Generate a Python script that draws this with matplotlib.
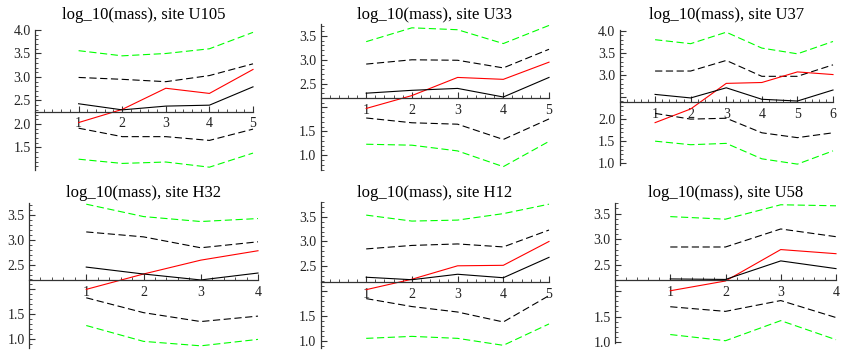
import matplotlib.pyplot as plt
import numpy as np
from matplotlib.ticker import MultipleLocator

plt.rcParams['font.family'] = ['Liberation Serif', 'DejaVu Serif']

# Data (one list per site)
sites = ["U105", "U33", "U37", "H32", "H12", "U58"]

green_hi = [[3.56, 3.45, 3.50, 3.60, 3.95],
            [3.38, 3.67, 3.63, 3.34, 3.72],
            [3.80, 3.71, 3.97, 3.61, 3.48, 3.76],
            [3.72, 3.47, 3.37, 3.43],
            [3.53, 3.41, 3.43, 3.56, 3.75],
            [3.44, 3.39, 3.67, 3.65]]
dash_hi = [[2.99, 2.95, 2.90, 3.03, 3.28],
           [2.91, 3.00, 2.99, 2.83, 3.22],
           [3.09, 3.09, 3.33, 2.97, 2.97, 3.23],
           [3.16, 3.06, 2.84, 2.96],
           [2.85, 2.92, 2.95, 2.89, 3.23],
           [2.85, 2.85, 3.20, 3.05]]
red_line = [[2.03, 2.31, 2.76, 2.65, 3.16],
            [1.98, 2.25, 2.63, 2.59, 2.95],
            [1.92, 2.23, 2.81, 2.83, 3.07, 3.01],
            [2.00, 2.31, 2.59, 2.78],
            [2.03, 2.24, 2.51, 2.52, 3.00],
            [2.00, 2.19, 2.80, 2.72]]
black_line = [[2.43, 2.30, 2.38, 2.40, 2.79],
              [2.30, 2.36, 2.40, 2.22, 2.63],
              [2.56, 2.48, 2.71, 2.45, 2.41, 2.66],
              [2.45, 2.31, 2.19, 2.33],
              [2.28, 2.23, 2.34, 2.27, 2.68],
              [2.23, 2.22, 2.58, 2.43]]
dash_lo = [[1.91, 1.73, 1.73, 1.65, 1.89],
           [1.78, 1.68, 1.65, 1.33, 1.76],
           [2.13, 2.00, 2.02, 1.69, 1.58, 1.69],
           [1.83, 1.53, 1.35, 1.46],
           [1.85, 1.69, 1.58, 1.38, 1.91],
           [1.69, 1.60, 1.81, 1.48]]
green_lo = [[1.25, 1.16, 1.19, 1.08, 1.38],
            [1.23, 1.21, 1.09, 0.76, 1.29],
            [1.50, 1.42, 1.45, 1.10, 0.98, 1.28],
            [1.27, 0.95, 0.86, 0.99],
            [1.05, 1.09, 1.05, 0.91, 1.34],
            [1.15, 1.03, 1.42, 1.05]]

# where the x axis crosses the y axis, and which y labels are shown
axis_cross = [2.26, 2.19, 2.38, 2.18, 2.18, 2.20]
ytick_labels = [[1.5, 2.0, 2.5, 3.0, 3.5, 4.0],
                [1.0, 1.5, 2.5, 3.0, 3.5],
                [1.0, 1.5, 2.0, 3.0, 3.5, 4.0],
                [1.0, 1.5, 2.5, 3.0, 3.5],
                [1.0, 1.5, 2.5, 3.0, 3.5],
                [1.0, 1.5, 2.5, 3.0, 3.5]]
ylims = [(1.02, 4.0), (0.69, 3.75), (0.96, 4.02),
         (0.81, 3.75), (0.85, 3.80), (0.98, 3.71)]

# panel frames in pixels: left, right, top, bottom
W, H = 843, 361
rects = [(35, 253, 30, 170), (320.5, 549, 24, 170), (619.5, 833, 30, 165),
         (29, 258, 202.7, 348.3), (320.5, 549, 201.7, 348.3), (615, 836, 202.7, 343.3)]
title_y = [15, 15, 15, 193, 193, 193]

fig = plt.figure(figsize=(8.43, 3.61), dpi=100)

for i, site in enumerate(sites):
    l, r, t, b = rects[i]
    ax = fig.add_axes([l / W, 1 - b / H, (r - l) / W, (b - t) / H])
    ax.patch.set_visible(False)
    n = len(red_line[i])
    x = np.arange(1, n + 1)
    ax.set_xlim(0, n)
    ax.set_ylim(ylims[i])

    dsh = (6.5, 3.2)
    ax.plot(x, green_hi[i], color=(0, 1, 0), lw=0.8, dashes=dsh, clip_on=False)
    ax.plot(x, dash_hi[i], color='black', lw=0.8, dashes=dsh, clip_on=False)
    ax.plot(x, red_line[i], color='red', lw=0.8, clip_on=False)
    ax.plot(x, black_line[i], color='black', lw=0.8, clip_on=False)
    ax.plot(x, dash_lo[i], color='black', lw=0.8, dashes=dsh, clip_on=False)
    ax.plot(x, green_lo[i], color=(0, 1, 0), lw=0.8, dashes=dsh, clip_on=False)

    for s in ['top', 'right']:
        ax.spines[s].set_visible(False)
    ax.spines['left'].set_position(('data', 0))
    ax.spines['bottom'].set_position(('data', axis_cross[i]))
    for s in ['left', 'bottom']:
        ax.spines[s].set_linewidth(0.9)
        ax.spines[s].set_color('#333333')

    ax.set_xticks(x)
    ax.set_xticklabels([str(v) for v in x])
    ax.xaxis.set_minor_locator(MultipleLocator(0.2))

    lo, hi = ylims[i]
    yt = np.arange(np.ceil(lo * 2) / 2, hi + 0.001, 0.5)
    ax.set_yticks(yt)
    ax.set_yticklabels([f'{v:.1f}' if round(v, 1) in ytick_labels[i] else '' for v in yt])
    ax.yaxis.set_minor_locator(MultipleLocator(0.1))

    ax.tick_params(which='major', direction='in', length=4, width=0.8,
                   color='#333333', labelsize=10, labelcolor='#222222')
    ax.tick_params(which='minor', direction='in', length=2, width=0.6, color='#333333')
    ax.tick_params(axis='x', pad=4)
    ax.tick_params(axis='y', pad=3)

    fig.text((l + r) / 2 / W, 1 - title_y[i] / H, f'log_10(mass), site {site}',
             ha='center', va='center', fontsize=12)

fig.savefig('out.png', dpi=100)
